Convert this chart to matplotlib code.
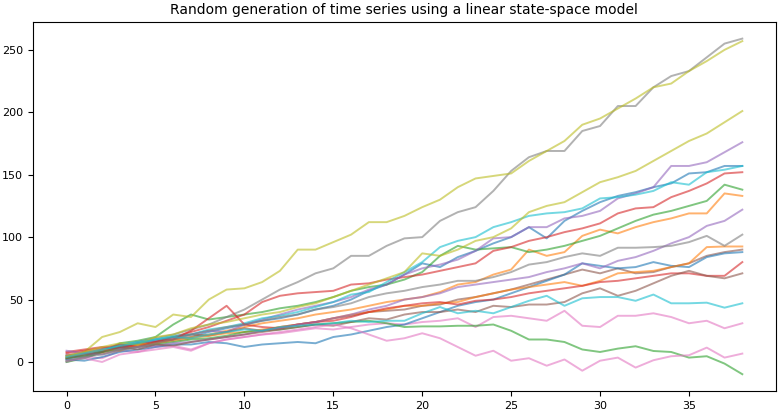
import numpy as np
import matplotlib
matplotlib.use("Agg")
import matplotlib.pyplot as plt

# time steps
steps = np.arange(39)

# series in plotting order (default colour cycle, twice)
blue_a = [5, 3, 8, 12, 14, 16, 18, 20, 24, 27, 30, 33, 35, 38, 42, 45, 50, 57, 62, 70,
          79, 76, 84, 89, 95, 100, 108, 99, 113, 121, 128, 133, 136, 140, 143, 151, 152, 157, 157]
orange_a = [3, 5, 7, 10, 13, 15, 18, 20, 22, 25, 28, 31, 33, 35, 38, 40, 42, 45, 48, 50,
            52, 56, 62, 64, 70, 74, 90, 85, 88, 101, 106, 103, 108, 112, 115, 119, 119, 135, 133]
green_a = [0, 3, 8, 15, 17, 20, 30, 38, 34, 36, 38, 40, 43, 45, 48, 52, 57, 60, 62, 66,
           72, 85, 93, 90, 91, 92, 88, 90, 93, 97, 101, 107, 113, 118, 121, 125, 129, 142, 138]
red_a = [8, 10, 12, 11, 15, 17, 20, 24, 28, 33, 38, 48, 53, 55, 56, 57, 62, 63, 66, 68,
         70, 73, 76, 79, 89, 92, 97, 100, 104, 107, 111, 119, 123, 124, 132, 137, 143, 151, 152]
purple_a = [6, 4, 10, 11, 15, 17, 19, 22, 25, 24, 30, 34, 38, 42, 45, 48, 52, 58, 62, 70,
            75, 78, 82, 89, 99, 100, 108, 108, 115, 117, 121, 131, 135, 140, 157, 157, 160, 168, 176]
brown_a = [5, 8, 9, 12, 14, 16, 20, 22, 21, 24, 27, 25, 28, 30, 32, 35, 37, 40, 41, 42,
           45, 46, 50, 52, 55, 58, 62, 66, 70, 74, 71, 75, 71, 72, 76, 79, 85, 88, 90]
pink_a = [2, 4, 3, 9, 8, 12, 13, 10, 15, 18, 20, 22, 23, 25, 27, 26, 28, 30, 31, 30,
          32, 33, 35, 28, 36, 37, 35, 33, 41, 29, 28, 37, 37, 39, 36, 31, 33, 27, 31]
gray_a = [0, 4, 9, 13, 16, 19, 22, 26, 30, 36, 42, 50, 58, 64, 71, 75, 85, 85, 93, 99,
          100, 113, 120, 124, 137, 153, 164, 169, 169, 185, 189, 205, 205, 220, 229, 233, 244, 255, 259]
olive_a = [3, 8, 20, 24, 31, 28, 38, 36, 50, 58, 59, 64, 73, 90, 90, 96, 102, 112, 112, 117,
           124, 130, 140, 147, 149, 151, 161, 169, 177, 190, 195, 203, 211, 220, 223, 233, 241, 250, 257]
cyan_a = [2, 6, 9, 14, 16, 18, 21, 22, 26, 28, 31, 35, 37, 40, 44, 48, 54, 56, 64, 72,
          80, 92, 97, 100, 108, 112, 117, 119, 120, 123, 131, 132, 134, 137, 144, 142, 152, 154, 157]
blue_b = [2, 1, 4, 8, 10, 12, 14, 14, 16, 15, 12, 14, 15, 16, 15, 20, 22, 25, 28, 30,
          35, 40, 45, 48, 50, 55, 60, 65, 70, 79, 77, 75, 76, 80, 77, 76, 84, 87, 88]
orange_b = [4, 7, 10, 9, 14, 15, 17, 19, 21, 23, 24, 26, 28, 30, 32, 35, 38, 40, 42, 45,
            45, 47, 48, 52, 55, 58, 60, 62, 64, 61, 65, 71, 72, 73, 76, 79, 92, 92.5, 92.5]
green_b = [3, 5, 8, 10, 12, 14, 16, 18, 19, 21, 24, 25, 26, 28, 30, 31, 32, 33, 31, 28,
           28.5, 28.5, 29, 29, 30, 25, 18, 18, 16, 10, 8, 10.7, 12.6, 8.8, 8, 3.5, 4.6, -1.3, -9.8]
red_b = [7, 9, 11, 14, 12, 16, 18, 25, 35, 45, 30, 28, 27, 30, 32, 33, 36, 40, 43, 45,
         47, 48, 46, 49, 50, 52, 55, 57, 59, 61, 64, 65, 67, 69, 71, 71, 69, 69, 80]
purple_b = [9, 7, 6, 10, 12, 13, 15, 16, 18, 20, 22, 25, 27, 30, 32, 35, 38, 42, 45, 50,
            52, 55, 60, 62, 64, 66, 68, 72, 75, 79, 75, 81, 84, 89, 95, 100, 109, 113, 122]
brown_b = [3, 6, 8, 12, 10, 14, 13, 16, 18, 20, 22, 24, 26, 28, 30, 29, 32, 35, 34, 38,
           40, 40, 42, 40, 45, 44, 46, 46, 48, 55, 59, 53, 57, 63, 69, 73, 69, 67, 71]
pink_b = [1, 3, 0, 6, 8, 10, 12, 9, 15, 18, 20, 22, 24, 26, 28, 30, 27, 22, 17, 19,
          23, 19, 12, 5, 9, 1, 3, -3, 2, -7, 1, 3.5, -4.5, 1.4, 4.6, 5.4, 11.5, 3.5, 6.7]
gray_b = [1, 4, 6, 9, 12, 15, 18, 22, 25, 28, 30, 33, 36, 38, 42, 44, 47, 52, 55, 57,
          60, 62, 65, 65, 68, 72, 78, 80, 84, 87, 85, 91.5, 91.5, 92, 93, 96, 101, 93, 102]
olive_b = [5, 8, 12, 15, 14, 20, 22, 27, 30, 32, 35, 38, 40, 44, 47, 52, 57, 62, 67, 72,
           87, 85, 90, 97, 100, 107, 120, 125, 128, 136, 144, 148, 153, 161, 169, 177, 183, 192, 201]
cyan_b = [4, 7, 10, 13, 15, 18, 20, 19, 22, 24, 26, 25, 28, 29, 30, 31, 33, 32, 33, 33,
          39, 44, 39, 41, 39, 44, 49, 53, 45, 51, 52, 52, 49, 54, 47, 47, 47.5, 43.5, 47]

all_series = [blue_a, orange_a, green_a, red_a, purple_a, brown_a, pink_a, gray_a, olive_a, cyan_a,
              blue_b, orange_b, green_b, red_b, purple_b, brown_b, pink_b, gray_b, olive_b, cyan_b]

fig, ax = plt.subplots(figsize=(7.8, 4.12), dpi=100)
fig.subplots_adjust(left=0.042, right=0.995, bottom=0.051, top=0.947)

for s in all_series:
    ax.plot(steps, s, alpha=0.6, linewidth=1.4)

ax.set_title("Random generation of time series using a linear state-space model", fontsize=10)
ax.set_xticks([0, 5, 10, 15, 20, 25, 30, 35])
ax.tick_params(labelsize=8)

fig.savefig("out.png", dpi=100)
